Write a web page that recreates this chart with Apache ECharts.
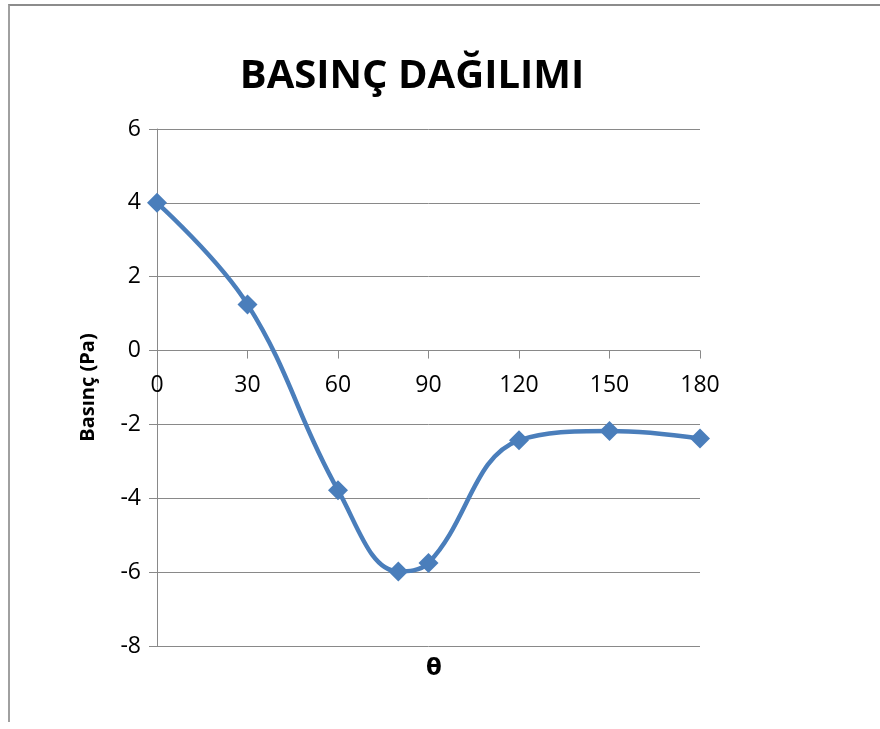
<!DOCTYPE html>
<html>
<head>
<meta charset="utf-8">
<script src="https://cdn.jsdelivr.net/npm/echarts@6/dist/echarts.min.js"></script>
<style>
    html, body { margin: 0; padding: 0; background: #fff; }
    #frame {
        position: absolute; left: 8px; top: 4px; width: 900px; height: 716px;
        border-top: 2px solid #8c8c8c; border-left: 2px solid #a0a0a0;
    }
    #chart { position: absolute; left: 0; top: 0; width: 880px; height: 729px; }
</style>
</head>
<body>
<div id="frame"></div>
<div id="chart"></div>
<script>
var angles = [0, 30, 60, 80, 90, 120, 150, 180];
var pressure = [4.0, 1.25, -3.78, -5.98, -5.75, -2.43, -2.18, -2.38];
var xTicks = [0, 30, 60, 90, 120, 150, 180];
var yMin = -8, yMax = 6;

function drawPressure() {
    var chart = echarts.init(document.getElementById('chart'));
    var points = [];
    for (var i = 0; i < angles.length; i++) {
        points.push([angles[i], pressure[i]]);
    }
    var plotHeight = 729 - 129 - 83;
    // move the x axis up to y = 0 (labels follow it)
    var zeroOffset = -plotHeight * (0 - yMin) / (yMax - yMin);
    var option = {
        animation: false,
        textStyle: { fontFamily: 'Open Sans' },
        title: [{
            text: 'BASINÇ DAĞILIMI',
            left: 407,
            top: 52,
            textAlign: 'center',
            textStyle: { fontSize: 40, fontWeight: 'bold', color: '#000', fontFamily: 'Open Sans' }
        }, {
            text: 'θ',
            left: 429,
            top: 653,
            textAlign: 'center',
            textStyle: { fontSize: 23, fontWeight: 'bold', color: '#000', fontFamily: 'DejaVu Sans' }
        }],
        grid: { left: 157, right: 180, top: 129, bottom: 83 },
        xAxis: {
            type: 'value',
            min: 0,
            max: 180,
            interval: 30,
            offset: zeroOffset,
            axisLine: { onZero: false, lineStyle: { color: '#898989', width: 1 } },
            axisTick: { show: true, inside: false, length: 8, lineStyle: { color: '#898989' } },
            axisLabel: {
                color: '#000', fontSize: 23, margin: 23,
                formatter: function (v) { return xTicks.indexOf(v) >= 0 ? v : ''; }
            },
            splitLine: { show: false }
        },
        yAxis: {
            type: 'value',
            min: yMin,
            max: yMax,
            interval: 2,
            name: 'Basınç (Pa)',
            nameLocation: 'middle',
            nameGap: 59,
            nameTextStyle: { fontSize: 20, fontWeight: 'bold', color: '#000' },
            axisLine: { show: true, lineStyle: { color: '#898989', width: 1 } },
            axisTick: { show: true, length: 8, lineStyle: { color: '#898989' } },
            axisLabel: { color: '#000', fontSize: 23, margin: 16 },
            splitLine: { show: true, lineStyle: { color: '#898989', width: 1 } }
        },
        series: [{
            name: 'Basınç',
            type: 'line',
            data: points,
            smooth: 0.4,
            symbol: 'diamond',
            symbolSize: 20,
            lineStyle: { color: '#4a7ebb', width: 4.5 },
            itemStyle: { color: '#4a7ebb' }
        }]
    };
    chart.setOption(option);
}

drawPressure();
</script>
</body>
</html>
